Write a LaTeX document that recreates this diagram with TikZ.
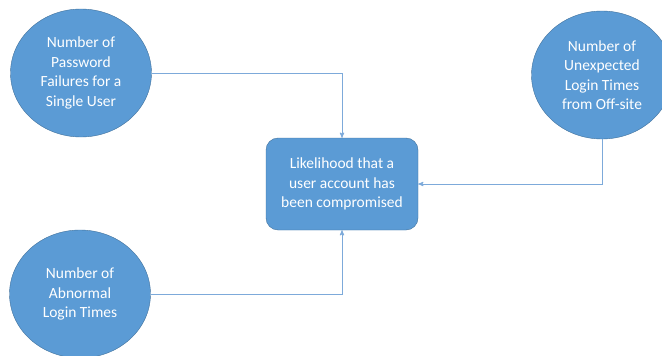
\documentclass[tikz,border=0pt]{standalone}
\usepackage{fontspec}
\setmainfont{Carlito}
\usepackage{tikz}
\usetikzlibrary{arrows}
\usetikzlibrary{positioning,shapes}
\definecolor{officeblue}{RGB}{91,155,213}
\definecolor{officeline}{RGB}{65,113,156}
\definecolor{linkblue}{RGB}{125,170,218}
\tikzstyle{factor} = [ellipse,fill=officeblue,draw=officeline,text=white,align=center,inner sep=0pt,minimum width=141pt,minimum height=128pt,font=\fontsize{15.5}{19.5}\selectfont]
\tikzstyle{outcome} = [factor,rectangle,rounded corners=12pt,minimum width=152pt,minimum height=92pt]
\tikzstyle{arrow_factor} = [->,draw=linkblue,line width=0.9pt]

\begin{document}
\begin{tikzpicture}[x=1pt,y=1pt,>=stealth']
      \useasboundingbox (0,0) rectangle (662,-356);

      \node[outcome] (likely) at (342,-184) {Likelihood that a\\user account has\\been compromised};
      \node[factor] (password) at (81,-73) {Number of\\Password\\Failures for a\\Single User};
      \node[factor] (offsite) at (602,-75) {Number of\\Unexpected\\Login Times\\from Off-site};
      \node[factor] (abnormal) at (80,-294) {Number of\\Abnormal\\Login Times};

      % Factor arrows
      \path[arrow_factor] (password) -| (likely);
      \path[arrow_factor] (offsite) |- (likely);
      \path[arrow_factor] (abnormal) -| (likely);

    \end{tikzpicture}
\end{document}
